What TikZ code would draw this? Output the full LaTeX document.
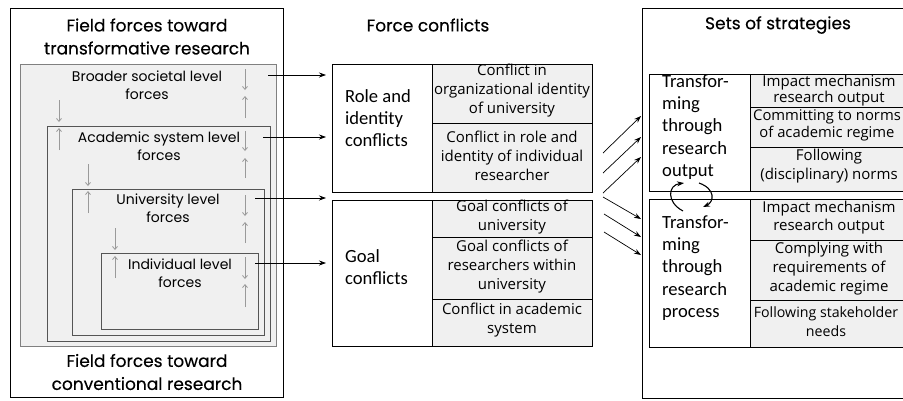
\documentclass[tikz,border=0pt]{standalone}
\usepackage{fontspec}
\setmainfont{Lato}
\newfontfamily\calfont{Carlito}
\newfontfamily\geofont{Poppins}
\newfontfamily\ttlfont{Poppins}[FakeBold=0.35]
\newfontfamily\opfont{Open Sans}
\usetikzlibrary{arrows.meta}
\definecolor{cellgray}{HTML}{F0F0F0}
\definecolor{boxline}{HTML}{555555}
\definecolor{forcegray}{HTML}{9A9A9A}
\tikzset{
  frame/.style={draw=black, line width=1pt, inner sep=0pt},
  lvlbox/.style={draw=boxline, line width=0.9pt, fill=cellgray, inner sep=0pt},
  whitecell/.style={draw=black, line width=1pt, fill=white, inner sep=0pt},
  graycell/.style={draw=black, line width=1pt, fill=cellgray, inner sep=0pt},
  ttl/.style={font=\ttlfont\fontsize{17}{23}\selectfont, align=center, inner sep=0pt},
  lvltxt/.style={font=\geofont\fontsize{14}{18}\selectfont, align=center, inner sep=0pt},
  celltxt/.style={font=\opfont\fontsize{15}{19}\selectfont, align=center, inner sep=0pt},
  bigcal/.style={font=\calfont\fontsize{18.6}{22.3}\selectfont, align=left, inner sep=0pt, anchor=west},
  force/.style={draw=forcegray, line width=0.8pt, -{Straight Barb[length=3pt,width=5pt]}},
  link/.style={draw=black, line width=0.7pt, -{Stealth[length=7pt,width=5pt]}},
}
\begin{document}
\begin{tikzpicture}[x=1pt,y=-1pt]
\useasboundingbox (0,0) rectangle (903,400);
\begin{scope}
\clip (0,0) rectangle (903,400);
% ---------- left column ----------
\node[frame, minimum width=273pt, minimum height=389pt] (outerL) at (146.5,202.5) {};
\node[ttl] (ttlL) at (147,36.5) {Field forces toward\\transformative research};
\node[lvlbox, draw=gray, minimum width=256pt, minimum height=282pt] (b1) at (148,205) {};
\node[lvlbox, minimum width=223pt, minimum height=215pt] (b2) at (158.5,233.5) {};
\node[lvlbox, minimum width=192pt, minimum height=146pt] (b3) at (168,262) {};
\node[lvlbox, minimum width=157pt, minimum height=76pt] (b4) at (179.5,291) {};
\node[ttl] (ttlB) at (147,372) {Field forces toward\\conventional research};
\node[lvltxt] (t1) at (147,85) {Broader societal level\\forces};
\node[lvltxt] (t2) at (159,146) {Academic system level\\forces};
\node[lvltxt] (t3) at (168,208) {University level\\forces};
\node[lvltxt] (t4) at (180,273) {Individual level\\forces};
% gray force arrows, right column
\coordinate (r1a) at (245,69);  \coordinate (r1b) at (245,90);
\coordinate (r1c) at (245,118); \coordinate (r1d) at (245,96);
\coordinate (r2a) at (245,131); \coordinate (r2b) at (245,151);
\coordinate (r2c) at (245,178); \coordinate (r2d) at (245,158);
\coordinate (r3a) at (245,195); \coordinate (r3b) at (245,216);
\coordinate (r3c) at (245,243); \coordinate (r3d) at (245,222);
\coordinate (r4a) at (245,257); \coordinate (r4b) at (245,279);
\coordinate (r4c) at (245,307); \coordinate (r4d) at (245,284);
\foreach \p in {1,2,3,4}{
  \draw[force] (r\p a) -- (r\p b);
  \draw[force] (r\p c) -- (r\p d);
}
% gray force arrows, left column
\coordinate (l1a) at (59,100);  \coordinate (l1b) at (59,122);
\coordinate (l1c) at (59,150);  \coordinate (l1d) at (59,128);
\coordinate (l2a) at (88,164);  \coordinate (l2b) at (88,186);
\coordinate (l2c) at (88,213);  \coordinate (l2d) at (88,191);
\coordinate (l3a) at (115,228); \coordinate (l3b) at (115,250);
\coordinate (l3c) at (115,278); \coordinate (l3d) at (115,256);
\foreach \p in {1,2,3}{
  \draw[force] (l\p a) -- (l\p b);
  \draw[force] (l\p c) -- (l\p d);
}
% ---------- middle column ----------
\node[ttl] (ttlM) at (428,25) {Force conflicts};
\node[whitecell, minimum width=100pt, minimum height=128pt] (ric) at (382,128) {};
\node[graycell, minimum width=160pt, minimum height=59pt] (c11) at (512,93.5) {};
\node[graycell, minimum width=160pt, minimum height=69pt] (c12) at (512,157.5) {};
\node[bigcal] (ricT) at (345,118) {Role and\\identity\\conflicts};
\node[celltxt] at (c11) [yshift=2.5pt] {Conflict in\\organizational identity\\of university};
\node[celltxt] at (c12) [yshift=1.5pt] {Conflict in role and\\identity of individual\\researcher};
\node[whitecell, minimum width=100pt, minimum height=146pt] (gc) at (382,273) {};
\node[graycell, minimum width=160pt, minimum height=37pt] (c21) at (512,218.5) {};
\node[graycell, minimum width=160pt, minimum height=62pt] (c22) at (512,268) {};
\node[graycell, minimum width=160pt, minimum height=47pt] (c23) at (512,322.5) {};
\node[bigcal] (gcT) at (345,267) {Goal\\conflicts};
\node[celltxt] at (c21) [yshift=1.5pt] {Goal conflicts of\\university};
\node[celltxt] at (c22) [yshift=1pt] {Goal conflicts of\\researchers within\\university};
\node[celltxt] at (c23) [yshift=2pt] {Conflict in academic\\system};
% links left -> middle
\coordinate (s1) at (268,75);
\coordinate (s2) at (263,137);
\coordinate (s3) at (255,198);
\coordinate (s4) at (255,263);
\coordinate (e1) at (326,75);
\coordinate (e2) at (326,137);
\coordinate (e3) at (326,198);
\coordinate (e4) at (326,263);
\foreach \i in {1,2,3,4}{\draw[link] (s\i) -- (e\i);}
% ---------- right column ----------
\node[frame, minimum width=268pt, minimum height=390pt] (outerR) at (776,203) {};
\node[ttl] (ttlR) at (778,25) {Sets of strategies};
\node[whitecell, minimum width=101pt, minimum height=117pt] (tro) at (699.5,132.5) {};
\node[graycell, minimum width=158pt, minimum height=33pt] (o1) at (829,90.5) {};
\node[graycell, minimum width=158pt, minimum height=40pt] (o2) at (829,127) {};
\node[graycell, minimum width=158pt, minimum height=44pt] (o3) at (829,169) {};
\node[bigcal] (troT) at (662,127) {Transfor-\\ming\\through\\research\\output};
\node[celltxt, font=\opfont\fontsize{15}{16}\selectfont] at (o1) {Impact mechanism\\research output};
\node[celltxt, font=\opfont\fontsize{14.8}{17}\selectfont] at (o2) [xshift=-2pt, yshift=1.5pt] {Committing to norms\\of academic regime};
\node[celltxt] at (o3) [yshift=2.5pt] {Following\\(disciplinary) norms};
\node[whitecell, minimum width=101pt, minimum height=148pt] (trp) at (699.5,273) {};
\node[graycell, minimum width=158pt, minimum height=41pt] (p1) at (829,219.5) {};
\node[graycell, minimum width=158pt, minimum height=60pt] (p2) at (829,270) {};
\node[graycell, minimum width=158pt, minimum height=47pt] (p3) at (829,323.5) {};
\node[bigcal] (trpT) at (662,268) {Transfor-\\ming\\through\\research\\process};
\node[celltxt, font=\opfont\fontsize{15}{18}\selectfont] at (p1) [yshift=1.5pt] {Impact mechanism\\research output};
\node[celltxt] at (p2) [yshift=1pt] {Complying with\\requirements of\\academic regime};
\node[celltxt, font=\opfont\fontsize{14.2}{19}\selectfont] at (p3) [xshift=-3pt, yshift=1.5pt] {Following stakeholder\\needs};
% crossing arrows middle -> right
\coordinate (u1s) at (603,153); \coordinate (u1e) at (641,116);
\coordinate (u2s) at (603,173); \coordinate (u2e) at (641,137);
\coordinate (u3s) at (603,193); \coordinate (u3e) at (641,157);
\coordinate (d1s) at (603,197); \coordinate (d1e) at (641,219);
\coordinate (d2s) at (604,214); \coordinate (d2e) at (641,237);
\coordinate (d3s) at (604,232); \coordinate (d3e) at (641,255);
\foreach \i in {1,2,3}{
  \draw[link] (u\i s) -- (u\i e);
  \draw[link] (d\i s) -- (d\i e);
}
% circular arrows between the two strategy sets
\coordinate (ca1) at (683,211); \coordinate (ca2) at (684,183);
\coordinate (cb1) at (699,183); \coordinate (cb2) at (703,207);
\draw[link, line width=1.1pt] (ca1) .. controls (666,202) and (668,185) .. (ca2);
\draw[link, line width=1.1pt] (cb1) .. controls (716,189) and (714,202) .. (cb2);
\end{scope}
\end{tikzpicture}
\end{document}
